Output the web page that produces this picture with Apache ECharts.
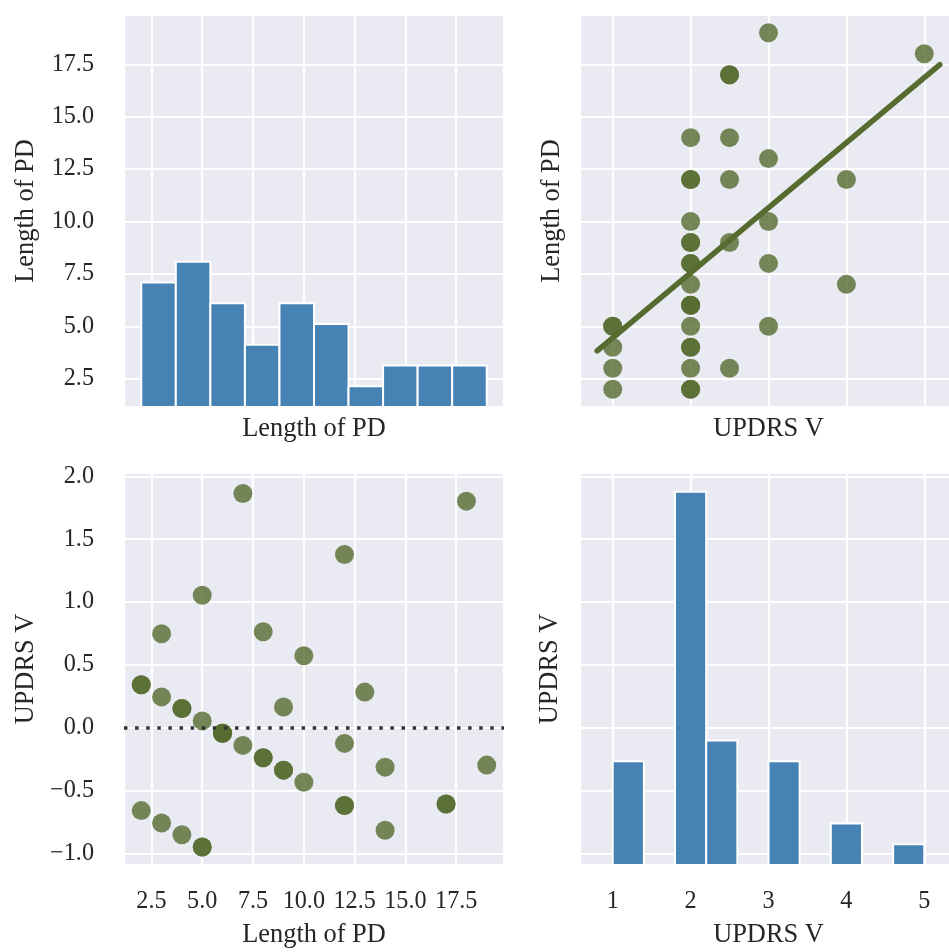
<!DOCTYPE html>
<html>
<head>
<meta charset="utf-8">
<script src="https://cdn.jsdelivr.net/npm/echarts@6/dist/echarts.min.js"></script>
<style>html,body{margin:0;padding:0;background:#ffffff}#chart{width:949px;height:952px}</style>
</head>
<body>
<div id="chart"></div>
<script>
// ---------------- data ----------------
// Histogram of Length of PD (bin edges and counts)
const lengthBinEdges = [2, 3.7, 5.4, 7.1, 8.8, 10.5, 12.2, 13.9, 15.6, 17.3, 19];
const lengthBinCounts = [6, 7, 5, 3, 5, 4, 1, 2, 2, 2];
// Histogram of UPDRS V
const updrsBinEdges = [1, 1.4, 1.8, 2.2, 2.6, 3.0, 3.4, 3.8, 4.2, 4.6, 5.0];
const updrsBinCounts = [5, 0, 18, 6, 0, 5, 0, 2, 0, 1];
// Per-subject values (37 subjects)
const updrsV = [1, 1, 1, 1, 1,
  2, 2, 2, 2, 2, 2, 2, 2, 2, 2, 2, 2, 2, 2, 2, 2, 2, 2,
  2.5, 2.5, 2.5, 2.5, 2.5, 2.5,
  3, 3, 3, 3, 3,
  4, 4,
  5];
const lengthPD = [2, 3, 4, 5, 5,
  2, 2, 3, 4, 4, 5, 6, 6, 6, 7, 8, 8, 9, 9, 10, 12, 12, 14,
  3, 9, 12, 14, 17, 17,
  5, 8, 10, 13, 19,
  7, 12,
  18];
// Residuals of UPDRS V (regressed on Length of PD)
const residualUPDRS = [-0.660, -0.759, -0.852, -0.950, -0.950,
  0.341, 0.341, 0.245, 0.152, 0.152, 0.054, -0.045, -0.045, -0.045, -0.141, -0.240, -0.240, -0.338, -0.338, -0.434, -0.620, -0.620, -0.817,
  0.748, 0.165, -0.125, -0.314, -0.607, -0.607,
  1.054, 0.764, 0.573, 0.283, -0.298,
  1.864, 1.379,
  1.803];
// Regression line (UPDRS V -> Length of PD), end points
const regLineX = [0.8, 5.2];
const regLineY = [3.83, 17.48];
// Tick labels
const lengthTickValues = [2.5, 5, 7.5, 10, 12.5, 15, 17.5];
const lengthTickLabels = ['2.5', '5.0', '7.5', '10.0', '12.5', '15.0', '17.5'];
const residTickValues = [-1, -0.5, 0, 0.5, 1, 1.5, 2];
const residTickLabels = ['\u22121.0', '\u22120.5', '0.0', '0.5', '1.0', '1.5', '2.0'];
const updrsTickValues = [1, 2, 3, 4, 5];
const updrsTickLabels = ['1', '2', '3', '4', '5'];

// ---------------- helpers ----------------
const FONT = 'Liberation Serif';
const TXT = '#262626';
const TICK_SIZE = 24.2;
const NAME_SIZE = 26.4;

function labelFrom(values, labels) {
  return function (v) {
    for (let i = 0; i < values.length; i++) {
      if (Math.abs(values[i] - v) < 1e-6) return labels[i];
    }
    return '';
  };
}

const splitLine = { show: true, lineStyle: { color: '#ffffff', width: 2.2 } };

function axisBase(extra) {
  return Object.assign({
    type: 'value',
    axisLine: { show: false },
    axisTick: { show: false },
    splitLine: splitLine,
    nameLocation: 'middle',
    nameTextStyle: { fontFamily: FONT, fontSize: NAME_SIZE, color: TXT }
  }, extra);
}

function labelStyle(values, labels, margin) {
  return { show: true, fontFamily: FONT, fontSize: TICK_SIZE, color: TXT, margin: margin,
    formatter: labelFrom(values, labels), showMinLabel: true, showMaxLabel: true };
}

function histData(edges, counts) {
  const out = [];
  counts.forEach(function (c, i) { if (c > 0) out.push([edges[i], edges[i + 1], c]); });
  return out;
}

function histItem(params, api) {
  const a = api.coord([api.value(0), api.value(2)]);
  const b = api.coord([api.value(1), 0]);
  return {
    type: 'rect',
    shape: { x: a[0], y: a[1], width: b[0] - a[0], height: b[1] - a[1] },
    style: { fill: '#4682B4', stroke: '#ffffff', lineWidth: 2 }
  };
}

const LEN_MIN = 1.15, LEN_MAX = 19.85;
const UPD_MIN = 0.58, UPD_MAX = 5.42;
const RES_MIN = -1.093, RES_MAX = 2.027;
const CNT_MIN = 0, CNT_MAX = 18.9;

const pairsTR = updrsV.map(function (u, i) { return [u, lengthPD[i]]; });
const pairsBL = lengthPD.map(function (l, i) { return [l, residualUPDRS[i]]; });
const regLine = regLineX.map(function (x, i) { return [x, regLineY[i]]; });

const pointStyle = { color: '#556B2F', opacity: 0.8 };

function gridBox(left, top, width) {
  return { left: left, top: top, width: width, height: 392, show: true, backgroundColor: '#EAEAF2',
    borderWidth: 0, containLabel: false, outerBoundsMode: 'none' };
}

const option = {
  animation: false,
  backgroundColor: '#ffffff',
  grid: [
    gridBox(124, 15, 380),
    gridBox(580, 15, 377),
    gridBox(124, 473, 380),
    gridBox(580, 473, 377)
  ],
  xAxis: [
    axisBase({ gridIndex: 0, min: LEN_MIN, max: LEN_MAX, minInterval: 2.5, maxInterval: 2.5,
      axisLabel: { show: false }, name: 'Length of PD', nameGap: 9 }),
    axisBase({ gridIndex: 1, min: UPD_MIN, max: UPD_MAX, minInterval: 1, maxInterval: 1,
      axisLabel: { show: false }, name: 'UPDRS V', nameGap: 9 }),
    axisBase({ gridIndex: 2, min: LEN_MIN, max: LEN_MAX, minInterval: 2.5, maxInterval: 2.5,
      axisLabel: labelStyle(lengthTickValues, lengthTickLabels, 25), name: 'Length of PD', nameGap: 57 }),
    axisBase({ gridIndex: 3, min: UPD_MIN, max: UPD_MAX, minInterval: 1, maxInterval: 1,
      axisLabel: labelStyle(updrsTickValues, updrsTickLabels, 25), name: 'UPDRS V', nameGap: 57 })
  ],
  yAxis: [
    axisBase({ gridIndex: 0, min: LEN_MIN, max: LEN_MAX, minInterval: 2.5, maxInterval: 2.5,
      axisLabel: labelStyle(lengthTickValues, lengthTickLabels, 30), name: 'Length of PD', nameGap: 85 }),
    { gridIndex: 0, type: 'value', show: false, min: CNT_MIN, max: CNT_MAX, splitLine: { show: false } },
    axisBase({ gridIndex: 1, min: LEN_MIN, max: LEN_MAX, minInterval: 2.5, maxInterval: 2.5,
      axisLabel: { show: false }, name: 'Length of PD', nameGap: 15 }),
    axisBase({ gridIndex: 2, min: RES_MIN, max: RES_MAX, minInterval: 0.5, maxInterval: 0.5,
      axisLabel: labelStyle(residTickValues, residTickLabels, 30), name: 'UPDRS V', nameGap: 85 }),
    axisBase({ gridIndex: 3, min: RES_MIN, max: RES_MAX, minInterval: 0.5, maxInterval: 0.5,
      axisLabel: { show: false }, name: 'UPDRS V', nameGap: 17 }),
    { gridIndex: 3, type: 'value', show: false, min: CNT_MIN, max: CNT_MAX, splitLine: { show: false } }
  ],
  series: [
    { type: 'custom', xAxisIndex: 0, yAxisIndex: 1, renderItem: histItem,
      encode: { x: [0, 1], y: 2 }, data: histData(lengthBinEdges, lengthBinCounts) },
    { type: 'scatter', xAxisIndex: 1, yAxisIndex: 2, symbolSize: 19, itemStyle: pointStyle,
      data: pairsTR, z: 2 },
    { type: 'line', xAxisIndex: 1, yAxisIndex: 2, showSymbol: false, symbol: 'none', data: regLine, z: 3,
      lineStyle: { color: '#556B2F', width: 5.5, cap: 'round' } },
    { type: 'scatter', xAxisIndex: 2, yAxisIndex: 3, symbolSize: 19, itemStyle: pointStyle,
      data: pairsBL, z: 2,
      markLine: { silent: true, symbol: ['none', 'none'], label: { show: false }, z: 5,
        lineStyle: { color: '#333333', width: 3.5, type: [3.5, 7.6], cap: 'butt' },
        emphasis: { disabled: true },
        data: [{ yAxis: 0 }] } },
    { type: 'custom', xAxisIndex: 3, yAxisIndex: 5, renderItem: histItem,
      encode: { x: [0, 1], y: 2 }, data: histData(updrsBinEdges, updrsBinCounts) }
  ]
};

const chart = echarts.init(document.getElementById('chart'), null, { renderer: 'canvas' });
chart.setOption(option);
</script>
</body>
</html>
